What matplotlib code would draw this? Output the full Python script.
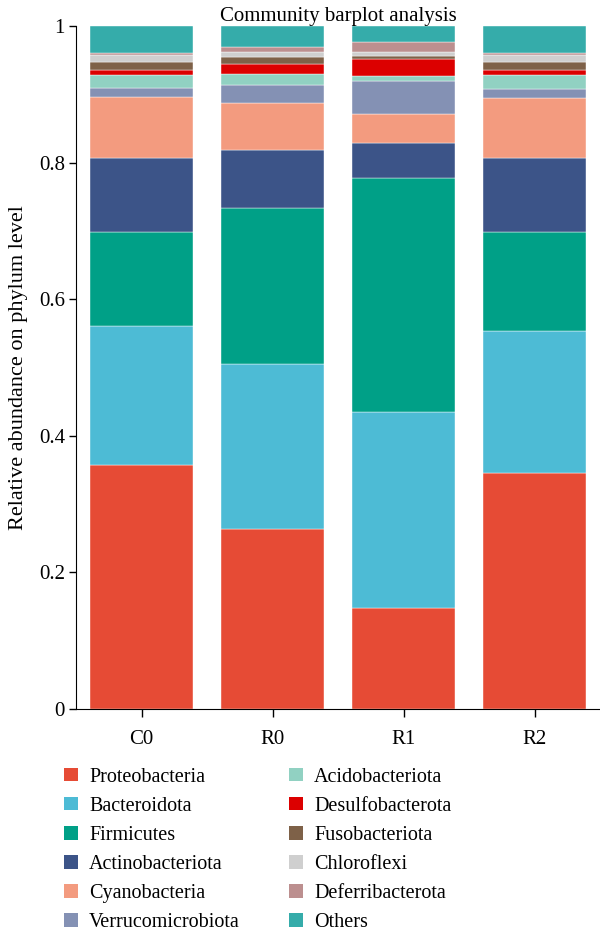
import numpy as np
import matplotlib.pyplot as plt
from matplotlib.patches import Patch

plt.rcParams["font.family"] = ["Liberation Serif", "DejaVu Serif"]

samples = ["C0", "R0", "R1", "R2"]
phyla = [
    "Proteobacteria", "Bacteroidota", "Firmicutes", "Actinobacteriota",
    "Cyanobacteria", "Verrucomicrobiota", "Acidobacteriota", "Desulfobacterota",
    "Fusobacteriota", "Chloroflexi", "Deferribacterota", "Others",
]
colors = [
    "#E64B35", "#4DBBD5", "#00A087", "#3C5488", "#F39B7F", "#8491B4",
    "#91D1C2", "#DC0000", "#7E6148", "#CFCFCF", "#BC8F8F", "#35ACAA",
]

# relative abundance per sample, same order as phyla
C0 = [0.357, 0.204, 0.137, 0.109, 0.089, 0.013, 0.020, 0.007, 0.011, 0.011, 0.003, 0.039]
R0 = [0.264, 0.241, 0.229, 0.084, 0.070, 0.025, 0.017, 0.014, 0.010, 0.008, 0.007, 0.031]
R1 = [0.148, 0.287, 0.342, 0.052, 0.042, 0.048, 0.008, 0.025, 0.004, 0.006, 0.014, 0.024]
R2 = [0.346, 0.207, 0.145, 0.109, 0.087, 0.014, 0.021, 0.007, 0.011, 0.011, 0.003, 0.039]

data = np.array([C0, R0, R1, R2]).T
FS = 15

fig = plt.figure(figsize=(6.0, 9.31), dpi=100)
ax = fig.add_axes([0.1267, 0.2385, 0.8733, 0.7335])

x = np.arange(len(samples))
bottom = np.zeros(len(samples))
for vals, col in zip(data, colors):
    ax.bar(x, vals, bottom=bottom, width=0.79, color=col,
           edgecolor="white", linewidth=0.3)
    bottom += vals

ax.set_xlim(-0.5, 3.5)
ax.set_ylim(0, 1)
ax.set_xticks(x)
ax.set_xticklabels(samples, fontsize=FS)
ax.set_yticks([0, 0.2, 0.4, 0.6, 0.8, 1.0])
ax.set_yticklabels(["0", "0.2", "0.4", "0.6", "0.8", "1"], fontsize=FS)
ax.tick_params(axis="y", direction="out", length=5, width=1, pad=3)
ax.tick_params(axis="x", direction="out", length=6, width=1, pad=9)
for s in ["top", "right"]:
    ax.spines[s].set_visible(False)
ax.set_ylabel("Relative abundance on phylum level", fontsize=16, labelpad=8)
ax.set_title("Community barplot analysis", fontsize=FS, pad=0)

handles = [Patch(facecolor=c, edgecolor="none") for c in colors]
fig.legend(handles, phyla, loc="upper left", bbox_to_anchor=(0.097, 0.182),
           ncol=2, frameon=False, fontsize=14.5, handlelength=0.67,
           handleheight=0.67, handletextpad=0.57, labelspacing=0.5,
           columnspacing=2.45, borderaxespad=0, borderpad=0.3)

fig.savefig("out.png", dpi=100)
plt.close(fig)
